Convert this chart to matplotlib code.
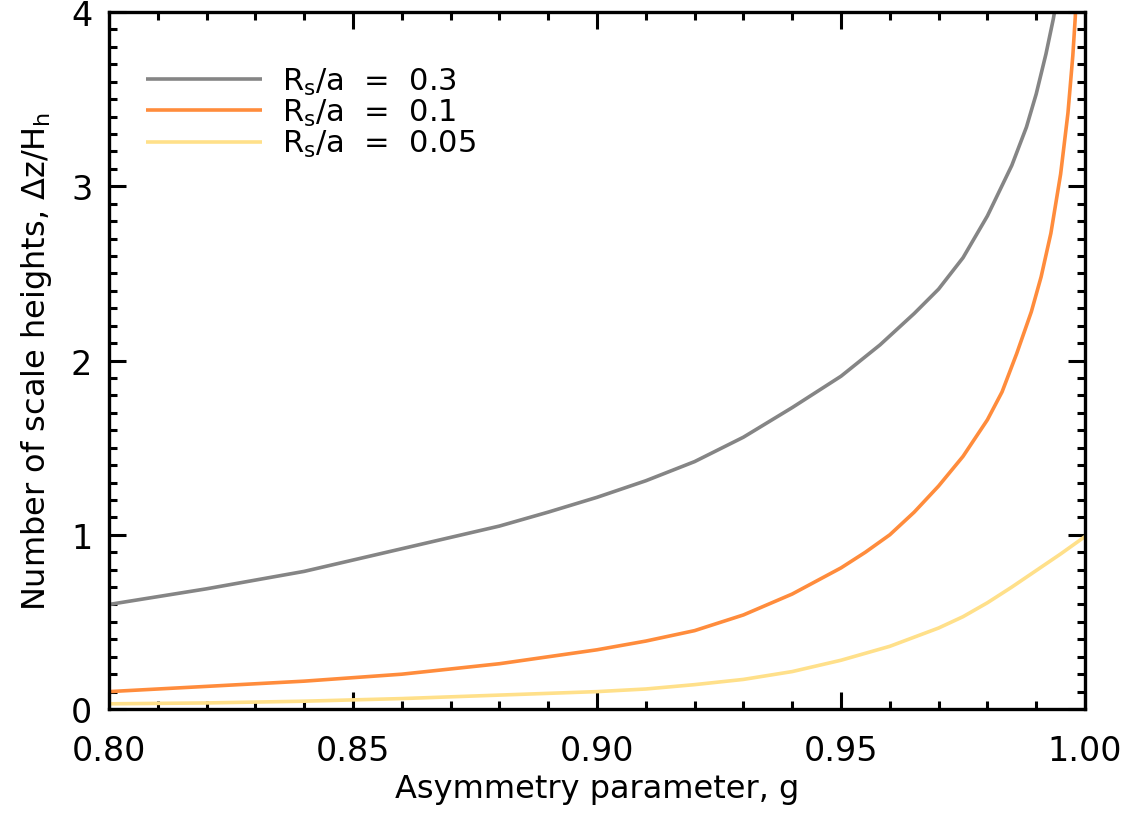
import matplotlib
matplotlib.use('Agg')
import matplotlib.pyplot as plt
from matplotlib.ticker import MultipleLocator

# values
g_03 = [0.800, 0.820, 0.840, 0.860, 0.880, 0.890, 0.900, 0.910, 0.920, 0.930, 0.940, 0.950,
        0.958, 0.965, 0.970, 0.975, 0.980, 0.985, 0.988, 0.990, 0.992, 0.9935, 0.9950]
dz_03 = [0.60, 0.69, 0.79, 0.92, 1.05, 1.13, 1.215, 1.31, 1.42, 1.56, 1.73, 1.91,
         2.09, 2.27, 2.41, 2.59, 2.83, 3.12, 3.34, 3.53, 3.76, 3.96, 4.20]

g_01 = [0.800, 0.820, 0.840, 0.860, 0.880, 0.890, 0.900, 0.910, 0.920, 0.930, 0.940, 0.950,
        0.955, 0.960, 0.965, 0.970, 0.975, 0.980, 0.983, 0.986, 0.989, 0.991, 0.993, 0.995,
        0.9965, 0.9975, 0.9980, 0.9990]
dz_01 = [0.10, 0.13, 0.16, 0.20, 0.26, 0.30, 0.34, 0.39, 0.45, 0.54, 0.66, 0.81,
         0.90, 1.00, 1.13, 1.28, 1.45, 1.66, 1.82, 2.04, 2.28, 2.48, 2.73, 3.07,
         3.42, 3.75, 3.97, 4.60]

g_005 = [0.800, 0.820, 0.840, 0.860, 0.880, 0.900, 0.910, 0.920, 0.930, 0.940, 0.950,
         0.960, 0.970, 0.975, 0.980, 0.985, 0.990, 0.995, 1.000]
dz_005 = [0.03, 0.035, 0.045, 0.06, 0.08, 0.10, 0.115, 0.14, 0.17, 0.215, 0.28,
          0.36, 0.465, 0.53, 0.61, 0.70, 0.795, 0.89, 0.99]

labels = [r'R$_\mathregular{s}$/a  =  0.3', r'R$_\mathregular{s}$/a  =  0.1', r'R$_\mathregular{s}$/a  =  0.05']
colors = ['#858585', '#FF8C3C', '#FFE08A']

plt.rcParams['font.family'] = ['DejaVu Sans']
plt.rcParams['mathtext.default'] = 'regular'

fig = plt.figure(figsize=(11.28, 8.2), dpi=100)
ax = fig.add_axes([0.0966, 0.1341, 0.8653, 0.8500])

for g, dz, lab, c in zip([g_03, g_01, g_005], [dz_03, dz_01, dz_005], labels, colors):
    ax.plot(g, dz, color=c, lw=2.6, label=lab, solid_capstyle='butt', solid_joinstyle='round')

ax.set_xlim(0.80, 1.00)
ax.set_ylim(0, 4)
ax.xaxis.set_major_locator(MultipleLocator(0.05))
ax.xaxis.set_minor_locator(MultipleLocator(0.01))
ax.yaxis.set_major_locator(MultipleLocator(1))
ax.yaxis.set_minor_locator(MultipleLocator(0.1))
ax.set_xticks([0.80, 0.85, 0.90, 0.95, 1.00])
ax.set_xticklabels(['0.80', '0.85', '0.90', '0.95', '1.00'])

ax.tick_params(which='both', direction='in', top=True, right=True, width=2.2, colors='black')
ax.tick_params(which='major', length=12, labelsize=24)
ax.tick_params(which='minor', length=6)
ax.tick_params(axis='x', which='major', pad=18)
ax.tick_params(axis='y', which='major', pad=12)
for s in ax.spines.values():
    s.set_linewidth(2.4)

ax.set_xlabel('Asymmetry parameter, g', fontsize=23, labelpad=4)
ax.set_ylabel(r'Number of scale heights, $\Delta$z/H$_\mathregular{h}$', fontsize=23, labelpad=12)

ax.legend(loc='upper left', bbox_to_anchor=(0.025, 0.94), frameon=False, fontsize=22,
          handlelength=3.8, handletextpad=0.65, labelspacing=0.0, borderaxespad=0)

fig.savefig('out.png', dpi=100)
